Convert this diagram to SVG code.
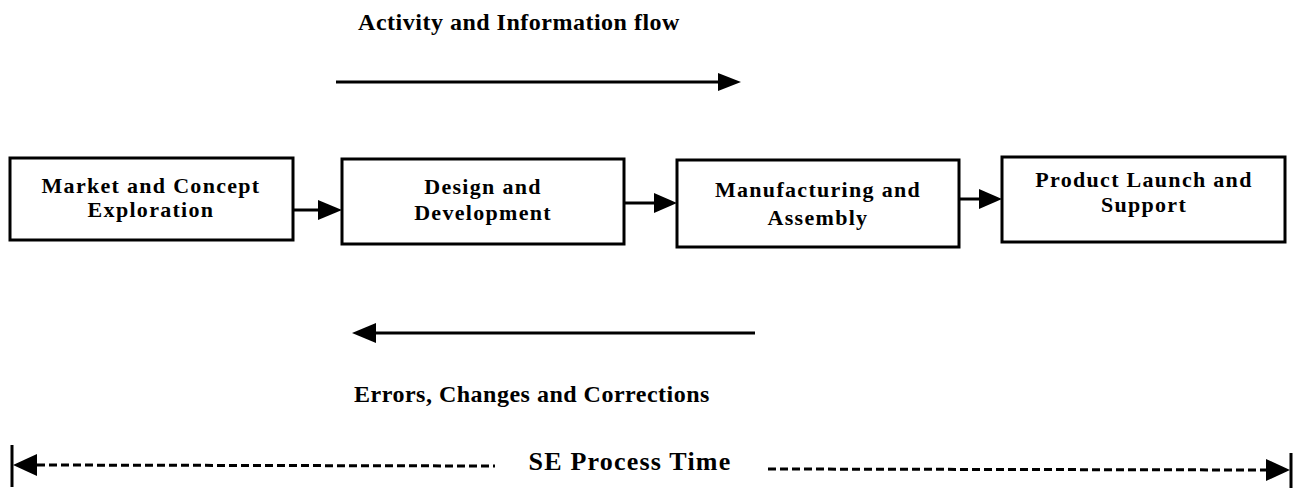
<svg xmlns="http://www.w3.org/2000/svg" width="1303" height="491" viewBox="0 0 1303 491">
<style>
.box{fill:#fff;stroke:#000;stroke-width:3}
.t{font-family:"Liberation Serif","Times New Roman",serif;font-weight:bold;font-size:24px;letter-spacing:0.5px;fill:#000;text-anchor:middle}
.bt{font-size:22px;letter-spacing:1.3px}
.ln{stroke:#000;stroke-width:3;fill:none}
.dash{stroke:#000;stroke-width:3;fill:none;stroke-dasharray:8 4}
.hd{fill:#000;stroke:none}
</style>
<rect width="1303" height="491" fill="#fff"/>
<g id="label-activity">
<text class="t" x="519" y="30">Activity and Information flow</text>
</g>
<g id="label-errors">
<text class="t" x="532" y="402">Errors, Changes and Corrections</text>
</g>
<g id="node-market">
<rect class="box" x="10" y="158" width="283" height="82"/>
<text class="t bt" x="151" y="193">Market and Concept</text>
<text class="t bt" x="151" y="217">Exploration</text>
</g>
<g id="node-design">
<rect class="box" x="342" y="159" width="282" height="85"/>
<text class="t bt" x="483" y="194">Design and</text>
<text class="t bt" x="483" y="220">Development</text>
</g>
<g id="node-manufacturing">
<rect class="box" x="677" y="160" width="282" height="87"/>
<text class="t bt" x="818" y="197">Manufacturing and</text>
<text class="t bt" x="818" y="225">Assembly</text>
</g>
<g id="node-launch">
<rect class="box" x="1002" y="157" width="283" height="85"/>
<text class="t bt" x="1144" y="187">Product Launch and</text>
<text class="t bt" x="1144" y="212">Support</text>
</g>
<g id="connectors">
<line class="ln" x1="294" y1="210" x2="320" y2="210"/>
<polygon class="hd" points="342,210 318,200 318,220"/>
<line class="ln" x1="625" y1="203" x2="657" y2="203"/>
<polygon class="hd" points="677,203 654,193 654,213"/>
<line class="ln" x1="960" y1="199" x2="982" y2="199"/>
<polygon class="hd" points="1002,199 979,189 979,209"/>
<line class="ln" x1="336" y1="82" x2="720" y2="82"/>
<polygon class="hd" points="741,82 718,73 718,91"/>
<line class="ln" x1="374" y1="333" x2="755" y2="333"/>
<polygon class="hd" points="352,333 376,323 376,343"/>
<line class="ln" x1="12" y1="445" x2="12" y2="487"/>
<line class="ln" x1="1291" y1="453" x2="1291" y2="488"/>
<polygon class="hd" points="13,465 37,454 37,476"/>
<line class="dash" x1="37" y1="465" x2="495" y2="466"/>
<line class="dash" x1="768" y1="469" x2="1266" y2="470"/>
<polygon class="hd" points="1290,470 1266,459 1266,481"/>
</g>
<g id="label-time">
<text class="t" x="630" y="470" style="font-size:26px;letter-spacing:1.2px">SE Process Time</text>
</g>
</svg>
